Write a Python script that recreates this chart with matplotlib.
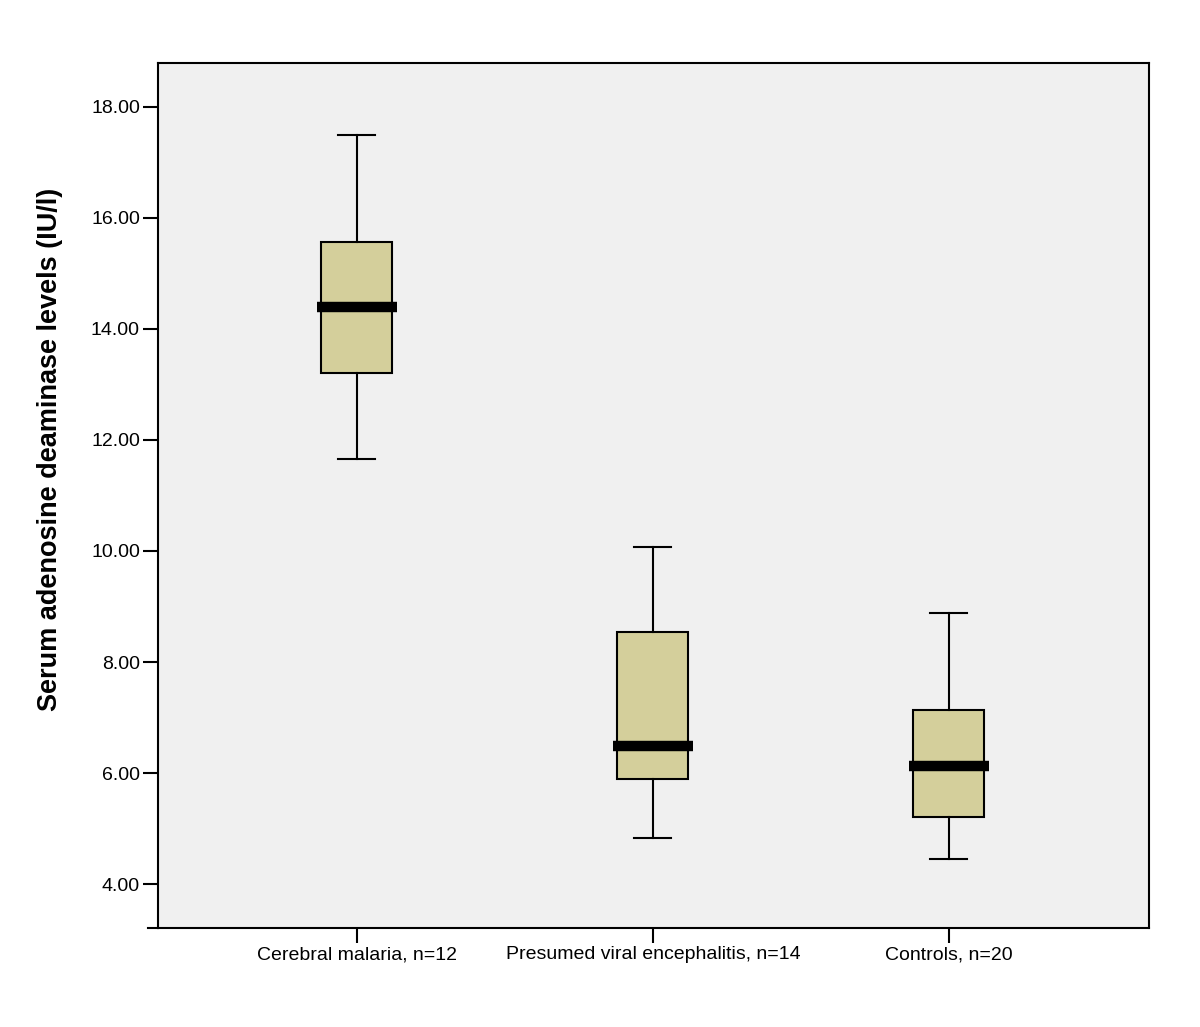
import matplotlib.pyplot as plt
import numpy as np

plt.rcParams['font.family'] = ['Liberation Sans', 'DejaVu Sans']

groups = ["Cerebral malaria, n=12", "Presumed viral encephalitis, n=14", "Controls, n=20"]
whisker_low = [11.65, 4.83, 4.45]
q1 = [13.20, 5.89, 5.21]
median = [14.40, 6.48, 6.12]
q3 = [15.56, 8.55, 7.14]
whisker_high = [17.50, 10.08, 8.89]

fig = plt.figure(figsize=(12, 10.27), dpi=100)
ax = fig.add_axes([0.1317, 0.0964, 0.8258, 0.8423])
ax.set_facecolor("#f0f0f0")

stats = []
for i in range(len(groups)):
    stats.append({"whislo": whisker_low[i], "q1": q1[i], "med": median[i],
                  "q3": q3[i], "whishi": whisker_high[i], "fliers": []})

x = np.arange(1, len(groups) + 1)
ax.bxp(stats, positions=x, widths=0.24, capwidths=0.125, patch_artist=True,
       showfliers=False,
       boxprops=dict(facecolor="#d4cf9b", edgecolor="black", linewidth=1.5),
       whiskerprops=dict(color="black", linewidth=1.5),
       capprops=dict(color="black", linewidth=1.5),
       medianprops=dict(linewidth=0))
# thick median bars, slightly wider than the boxes
ax.hlines(median, x - 0.135, x + 0.135, colors="black", linewidth=7.5, zorder=5)

ax.set_xlim(0.328, 3.676)
ax.set_ylim(3.21, 18.79)
ax.set_yticks(np.arange(4, 19, 2))
ax.set_yticklabels([f"{v:.2f}" for v in np.arange(4, 19, 2)], fontsize=14)
ax.set_xticks(x)
ax.set_xticklabels(groups, fontsize=14)
ax.tick_params(axis="both", direction="out", length=11, width=1.5, pad=2)
ax.set_ylabel("Serum adenosine deaminase levels (IU/l)", fontsize=19.5,
              fontweight="bold")
ax.yaxis.set_label_coords(-0.096, 0.553)
for s in ax.spines.values():
    s.set_linewidth(1.5)
# bottom axis line sticks out a little past the left spine
ax.plot([-0.01, 0], [0, 0], transform=ax.transAxes, color="black",
        linewidth=1.5, clip_on=False)

fig.savefig("out.png", dpi=100)
